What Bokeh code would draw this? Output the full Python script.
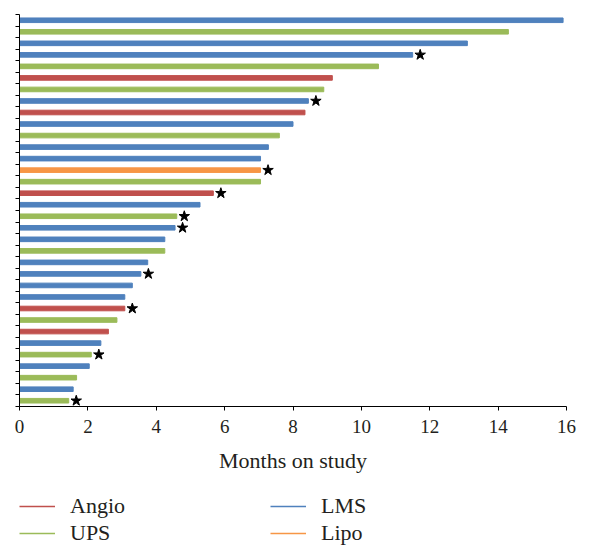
from bokeh.plotting import figure
from bokeh.layouts import column
from bokeh.models import Range1d, FixedTicker, Legend, LegendItem, ColumnDataSource, CustomJSTickFormatter
from bokeh.embed import file_html
from bokeh.resources import INLINE

# Bars listed from top to bottom
months = [15.9, 14.3, 13.1, 11.5, 10.5, 9.15, 8.9, 8.45, 8.35, 8.0,
          7.6, 7.28, 7.05, 7.05, 7.05, 5.67, 5.28, 4.6, 4.55, 4.25,
          4.25, 3.75, 3.55, 3.3, 3.08, 3.08, 2.85, 2.6, 2.38, 2.1,
          2.04, 1.67, 1.57, 1.44]
types = ["LMS", "UPS", "LMS", "LMS", "UPS", "Angio", "UPS", "LMS", "Angio", "LMS",
         "UPS", "LMS", "LMS", "Lipo", "UPS", "Angio", "LMS", "UPS", "LMS", "LMS",
         "UPS", "LMS", "LMS", "LMS", "LMS", "Angio", "UPS", "Angio", "LMS", "UPS",
         "LMS", "UPS", "LMS", "UPS"]
starred = [False, False, False, True, False, False, False, True, False, False,
           False, False, False, True, False, True, False, True, True, False,
           False, False, True, False, False, True, False, False, False, True,
           False, False, False, True]
x_ticks = [0, 2, 4, 6, 8, 10, 12, 14, 16]
legend_order = ["Angio", "UPS", "LMS", "Lipo"]
palette = {"Angio": "#C0504D", "LMS": "#4F81BD", "UPS": "#9BBB59", "Lipo": "#F79646"}

n = len(months)
ypos = [n - i for i in range(n)]
colors = [palette[t] for t in types]
src = ColumnDataSource(dict(y=ypos, m=months, c=colors))

star_offset = 0.22
sx = [m + star_offset for m, s in zip(months, starred) if s]
sy = [y for y, s in zip(ypos, starred) if s]

W = 582
p = figure(width=W, height=480, output_backend="svg", toolbar_location=None,
           x_range=Range1d(0, 16), y_range=Range1d(0.5, n + 0.5),
           min_border_left=19, min_border_right=16, min_border_top=14, min_border_bottom=74)
p.outline_line_color = None
p.xgrid.grid_line_color = None
p.ygrid.grid_line_color = None
p.background_fill_color = "white"
p.border_fill_color = "white"

p.hbar(y="y", left=0, right="m", height=0.4, color="c", source=src)
p.scatter(sx, sy, marker="star", size=11, color="black")

# axes
xa = p.xaxis[0]
xa.ticker = FixedTicker(ticks=x_ticks)
xa.minor_tick_line_color = None
xa.major_tick_out = 4
xa.major_tick_in = 0
xa.axis_line_color = "black"
xa.major_tick_line_color = "black"
xa.major_label_text_font = "Liberation Serif"
xa.major_label_text_font_size = "19px"
xa.major_label_text_color = "#231f20"
xa.major_label_standoff = 9
xa.axis_label = "Months on study"
xa.axis_label_text_font = "Liberation Serif"
xa.axis_label_text_font_size = "22px"
xa.axis_label_text_font_style = "normal"
xa.axis_label_text_color = "#231f20"
xa.axis_label_standoff = 12

ya = p.yaxis[0]
ya.ticker = FixedTicker(ticks=[k + 0.5 for k in range(n + 1)])
ya.formatter = CustomJSTickFormatter(code="return ''")
ya.minor_tick_line_color = None
ya.major_tick_out = 4
ya.major_tick_in = 0
ya.major_label_standoff = 0
ya.axis_line_color = "black"
ya.major_tick_line_color = "black"

# legend in a separate strip below the chart
q = figure(width=W, height=79, output_backend="svg", toolbar_location=None,
           x_axis_type=None, y_axis_type=None,
           x_range=Range1d(0, 1), y_range=Range1d(0, 1),
           min_border_left=0, min_border_right=0, min_border_top=0, min_border_bottom=0)
q.outline_line_color = None
q.xgrid.grid_line_color = None
q.ygrid.grid_line_color = None

items = []
for t in legend_order:
    r = q.line([-5, -4], [-5, -4], line_color=palette[t], line_width=1.5)
    items.append(LegendItem(label=t, renderers=[r]))

leg = Legend(items=items, location=(0, 13), orientation="vertical", ncols=2,
             glyph_width=36, glyph_height=20, label_standoff=15, label_width=200,
             label_height=27, spacing=0, padding=0, margin=0,
             border_line_alpha=0, background_fill_alpha=0,
             label_text_font="Liberation Serif", label_text_font_size="22px",
             label_text_color="#231f20")
q.add_layout(leg)

open("out.html", "w").write(file_html(column(p, q), INLINE))
